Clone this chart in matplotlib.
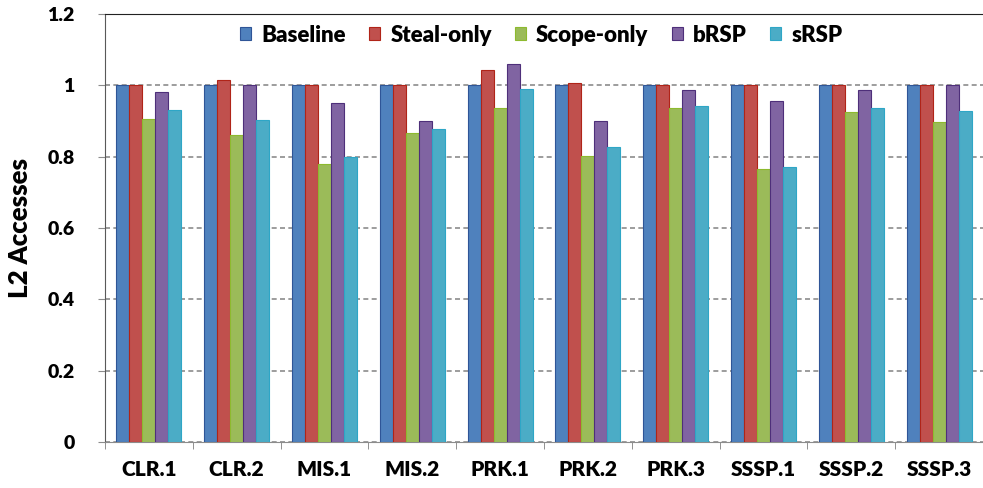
import numpy as np
import matplotlib
matplotlib.use("Agg")
import matplotlib.pyplot as plt

plt.rcParams['font.family'] = ['Lato', 'DejaVu Sans']
plt.rcParams['font.weight'] = 'heavy'

# benchmarks
benchmarks = ['CLR.1', 'CLR.2', 'MIS.1', 'MIS.2', 'PRK.1', 'PRK.2', 'PRK.3', 'SSSP.1', 'SSSP.2', 'SSSP.3']

# normalized L2 accesses
baseline   = [1.0, 1.0, 1.0, 1.0, 1.0, 1.0, 1.0, 1.0, 1.0, 1.0]
steal_only = [1.0, 1.014, 1.0, 1.0, 1.042, 1.006, 1.0, 1.0, 1.0, 1.0]
scope_only = [0.907, 0.861, 0.779, 0.866, 0.936, 0.802, 0.936, 0.765, 0.924, 0.896]
brsp       = [0.98, 1.0, 0.951, 0.90, 1.06, 0.90, 0.987, 0.955, 0.987, 1.0]
srsp       = [0.932, 0.904, 0.80, 0.877, 0.99, 0.827, 0.943, 0.772, 0.936, 0.929]

series = [('Baseline', baseline, '#4F81BD', '#2F5597'),
          ('Steal-only', steal_only, '#C0504D', '#B02418'),
          ('Scope-only', scope_only, '#9BBB59', '#8DBA2E'),
          ('bRSP', brsp, '#8064A2', '#4E2F7A'),
          ('sRSP', srsp, '#4BACC6', '#2EA6C6')]

fig = plt.figure(figsize=(9.83, 4.88), dpi=100)
ax = fig.add_axes([0.1068, 0.0943, 0.8932, 0.877])

x = np.arange(len(benchmarks))
width = 0.148
for i, (name, vals, col, edge) in enumerate(series):
    ax.bar(x + (i - 2) * width, vals, width, color=col, edgecolor=edge,
           linewidth=0.8, label=name, zorder=3)

ax.set_ylim(0, 1.2)
ax.set_xlim(-0.5, 9.29)
ax.set_yticks(np.arange(0, 1.21, 0.2))
ax.set_yticklabels(['0', '0.2', '0.4', '0.6', '0.8', '1', '1.2'])
ax.yaxis.grid(True, linestyle=(0, (3, 2)), color='#8c8c8c', linewidth=1.2, zorder=0)

ax.set_xticks(x)
ax.set_xticklabels(benchmarks)
ax.set_xticks(np.arange(-0.5, 10, 1), minor=True)
ax.tick_params(axis='x', which='major', length=0, pad=13, labelsize=15)
ax.tick_params(axis='x', which='minor', length=5, color='#7f7f7f')
ax.tick_params(axis='y', length=5, color='#8c8c8c', labelsize=14, pad=17)

ax.spines['right'].set_visible(False)
ax.spines['left'].set_color('#595959')
ax.spines['bottom'].set_color('#8c8c8c')
ax.spines['top'].set_color('#222222')
ax.spines['top'].set_linestyle((0, (4, 1)))

ax.set_ylabel('L2 Accesses', fontsize=18.5, fontweight='heavy', labelpad=11)

ax.legend(loc='upper center', bbox_to_anchor=(0.497, 1.022), ncol=5, frameon=False,
          fontsize=16, handlelength=0.5, handleheight=0.5, handletextpad=0.45,
          columnspacing=1.05)

fig.savefig('out.png', dpi=100)
